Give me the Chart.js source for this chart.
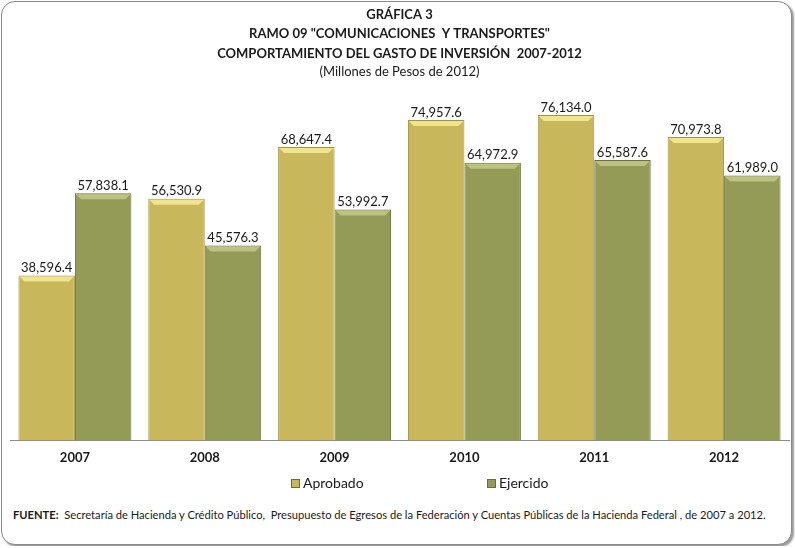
<!DOCTYPE html>
<html>
<head>
<meta charset="utf-8">
<script src="https://cdn.jsdelivr.net/npm/chart.js@4.4.0/dist/chart.umd.min.js"></script>
<style>
  html, body { margin: 0; padding: 0; background: #fff; }
  #frame {
    position: relative; width: 791px; height: 544px; margin: 1px;
    border: 1px solid #8a8a8a; border-radius: 14px; background: #fff;
    box-shadow: 2px 2px 2px #9a9a9a; box-sizing: border-box; overflow: hidden;
    font-family: Lato, "Open Sans", sans-serif; color: #1a1a1a;
  }
  #chartbox { position: absolute; left: 0; top: 0; width: 789px; height: 478px; }
  #legend { position: absolute; left: 0; top: 472px; width: 789px; height: 18px; font-size: 14px; }
  #legend div { position: absolute; top: 0; white-space: nowrap; }
  #legend span.box {
    display: inline-block; width: 7px; height: 7px; margin-right: 3px;
    border: 1px solid #6a6a4a; vertical-align: 0px;
  }
  #footer { position: absolute; left: 11px; top: 506px; font-size: 11.15px; white-space: nowrap; }
</style>
</head>
<body>
<div id="frame">
  <div id="chartbox"><canvas id="bar_chart"></canvas></div>
  <div id="legend"></div>
  <div id="footer"><b>FUENTE:</b>&nbsp; Secretaría de Hacienda y Crédito Público,&nbsp; Presupuesto de Egresos de la Federación y Cuentas Públicas de la Hacienda Federal , de 2007 a 2012.</div>
</div>
<script>
var years = ["2007", "2008", "2009", "2010", "2011", "2012"];
var aprobado = [38596.4, 56530.9, 68647.4, 74957.6, 76134.0, 70973.8];
var ejercido = [57838.1, 45576.3, 53992.7, 64972.9, 65587.6, 61989.0];
var names = ["Aprobado", "Ejercido"];
var fills = ["#C9B85B", "#949B57"];
var edges = ["#A39440", "#6C7236"];
var tops = ["#F1E48E", "#BCC27F"];
var legendLeft = [289, 485];

// labels on top of each bar + light bevel on the top edge
var barDeco = {
  id: 'barDeco',
  afterDatasetsDraw: function(chart) {
    var ctx = chart.ctx;
    chart.data.datasets.forEach(function(ds, i) {
      chart.getDatasetMeta(i).data.forEach(function(bar, j) {
        var half = bar.width / 2;
        ctx.save();
        ctx.fillStyle = tops[i];
        ctx.beginPath();
        ctx.moveTo(bar.x - half + 1, bar.y + 1);
        ctx.lineTo(bar.x + half - 1, bar.y + 1);
        ctx.lineTo(bar.x + half - 6, bar.y + 6);
        ctx.lineTo(bar.x - half + 6, bar.y + 6);
        ctx.closePath();
        ctx.fill();
        ctx.fillStyle = "#1a1a1a";
        ctx.font = "13px Lato, 'Open Sans', sans-serif";
        ctx.textAlign = "center";
        ctx.textBaseline = "bottom";
        ctx.fillText(ds.data[j].toLocaleString("en-US", {minimumFractionDigits: 1, maximumFractionDigits: 1}), bar.x, bar.y - 1);
        ctx.restore();
      });
    });
  }
};

function create_Bar() {
  new Chart(document.getElementById("bar_chart"), {
    type: 'bar',
    data: {
      labels: years,
      datasets: [
        { label: names[0], data: aprobado, backgroundColor: fills[0], borderColor: edges[0], borderWidth: 1 },
        { label: names[1], data: ejercido, backgroundColor: fills[1], borderColor: edges[1], borderWidth: 1 }
      ]
    },
    plugins: [barDeco],
    options: {
      responsive: true,
      maintainAspectRatio: false,
      animation: false,
      layout: { padding: { left: 8, right: 2, top: 3, bottom: 4 } },
      categoryPercentage: 0.87,
      barPercentage: 1.0,
      scales: {
        x: {
          grid: { display: false, drawTicks: false },
          border: { color: "#8c8c8c", width: 1 },
          ticks: { color: "#1a1a1a", font: { family: "Lato", size: 13, weight: "bold" }, padding: 10 }
        },
        y: { display: false, min: 0, max: 80000 }
      },
      plugins: {
        legend: { display: false },
        tooltip: { enabled: false },
        title: {
          display: true,
          text: ['GRÁFICA 3', 'RAMO 09 "COMUNICACIONES  Y TRANSPORTES"', 'COMPORTAMIENTO DEL GASTO DE INVERSIÓN  2007-2012'],
          color: "#1a1a1a",
          font: { family: "Lato", size: 13, weight: "bold", lineHeight: 1.5 },
          padding: { top: 0, bottom: 0 }
        },
        subtitle: {
          display: true,
          text: '(Millones de Pesos de 2012)',
          color: "#1a1a1a",
          font: { family: "Lato", size: 13, lineHeight: 1.3 },
          padding: { top: 0, bottom: 18 }
        }
      }
    }
  });
  var lg = document.getElementById("legend");
  names.forEach(function(n, i) {
    var it = document.createElement("div");
    it.style.left = legendLeft[i] + "px";
    it.innerHTML = '<span class="box" style="background:' + fills[i] + '"></span>' + n;
    lg.appendChild(it);
  });
}

document.addEventListener('DOMContentLoaded', create_Bar);
</script>
</body>
</html>
